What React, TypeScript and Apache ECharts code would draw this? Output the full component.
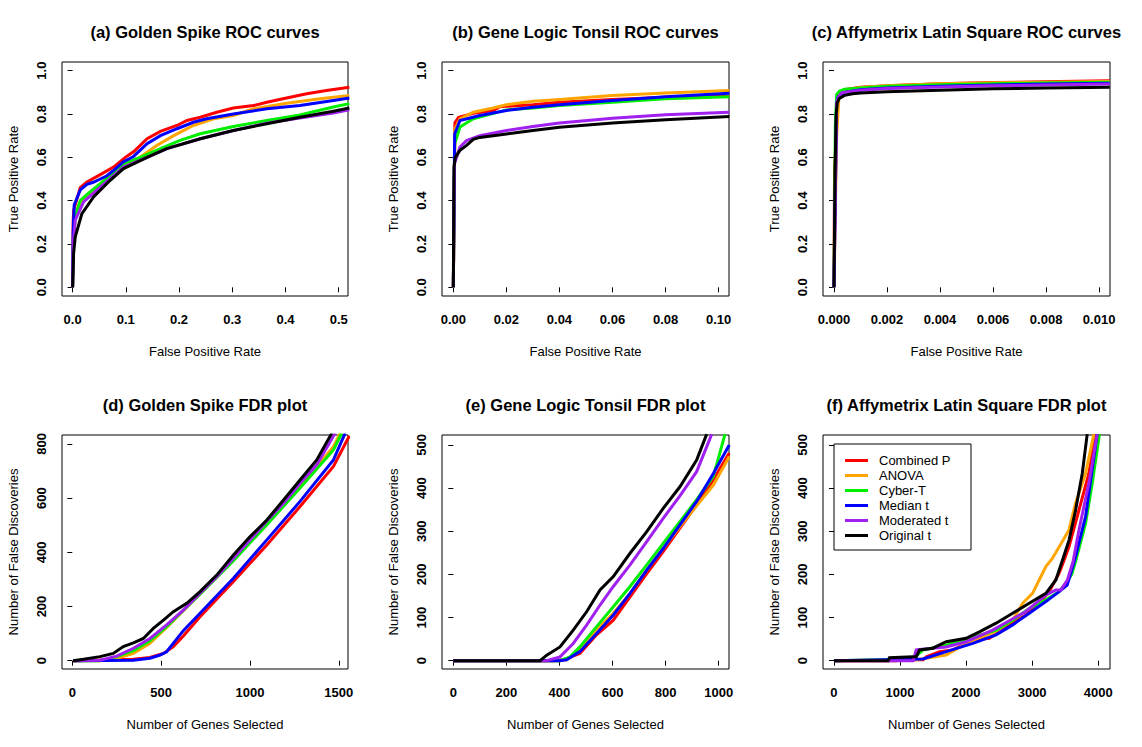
import React, { useEffect, useRef } from "react";
import * as echarts from "echarts";

const methodNames = ["Combined P", "ANOVA", "Cyber-T", "Median t", "Moderated t", "Original t"];
const methodColors = ["#FF0000", "#FFA500", "#00EE00", "#0000FF", "#A020F0", "#000000"];

const panelTitles = [
  "(a) Golden Spike ROC curves",
  "(b) Gene Logic Tonsil ROC curves",
  "(c) Affymetrix Latin Square ROC curves",
  "(d) Golden Spike FDR plot",
  "(e) Gene Logic Tonsil FDR plot",
  "(f) Affymetrix Latin Square FDR plot",
];

const rocYTicks = [0, 0.2, 0.4, 0.6, 0.8, 1.0];
const xTicksA = [0, 0.1, 0.2, 0.3, 0.4, 0.5];
const xTicksB = [0, 0.02, 0.04, 0.06, 0.08, 0.1];
const xTicksC = [0, 0.002, 0.004, 0.006, 0.008, 0.01];
const yTicksD = [0, 200, 400, 600, 800];
const xTicksD = [0, 500, 1000, 1500];
const yTicksE = [0, 100, 200, 300, 400, 500];
const xTicksE = [0, 200, 400, 600, 800, 1000];
const yTicksF = [0, 100, 200, 300, 400, 500];
const xTicksF = [0, 1000, 2000, 3000, 4000];

// (a) Golden Spike ROC
const rocA_combined = [[0,0],[0.001,0.30],[0.002,0.356],[0.0144,0.46],[0.027,0.486],[0.052,0.52],[0.077,0.555],[0.099,0.60],[0.115,0.627],[0.14,0.686],[0.165,0.72],[0.196,0.747],[0.215,0.77],[0.24,0.785],[0.271,0.808],[0.302,0.828],[0.34,0.839],[0.365,0.854],[0.402,0.874],[0.44,0.893],[0.477,0.908],[0.52,0.923]];
const rocA_anova = [[0,0],[0.001,0.2],[0.005,0.33],[0.0144,0.394],[0.03,0.43],[0.052,0.478],[0.0957,0.563],[0.127,0.60],[0.158,0.655],[0.19,0.70],[0.227,0.747],[0.265,0.778],[0.302,0.793],[0.34,0.824],[0.402,0.85],[0.465,0.87],[0.52,0.885]];
const rocA_cybert = [[0,0],[0.001,0.2],[0.005,0.33],[0.0144,0.40],[0.03,0.435],[0.052,0.478],[0.0957,0.57],[0.127,0.60],[0.165,0.64],[0.202,0.678],[0.24,0.709],[0.302,0.742],[0.365,0.77],[0.427,0.796],[0.49,0.832],[0.52,0.848]];
const rocA_median = [[0,0],[0.001,0.25],[0.003,0.38],[0.0144,0.45],[0.027,0.475],[0.039,0.485],[0.052,0.50],[0.0645,0.515],[0.077,0.54],[0.0957,0.58],[0.1145,0.604],[0.14,0.663],[0.165,0.70],[0.196,0.732],[0.227,0.762],[0.252,0.778],[0.302,0.80],[0.365,0.824],[0.427,0.839],[0.49,0.862],[0.52,0.874]];
const rocA_moderated = [[0,0],[0.001,0.2],[0.005,0.31],[0.0206,0.394],[0.052,0.463],[0.0957,0.555],[0.14,0.60],[0.177,0.64],[0.24,0.686],[0.302,0.724],[0.365,0.758],[0.427,0.782],[0.49,0.805],[0.52,0.82]];
const rocA_original = [[0,0],[0.0019,0.156],[0.005,0.233],[0.0175,0.34],[0.0394,0.417],[0.0707,0.494],[0.0957,0.548],[0.14,0.60],[0.177,0.64],[0.24,0.686],[0.302,0.724],[0.365,0.755],[0.427,0.785],[0.49,0.813],[0.52,0.828]];

// (b) Gene Logic Tonsil ROC
const rocB_combined = [[0,0],[0.0006,0.76],[0.002,0.785],[0.0075,0.803],[0.015,0.816],[0.0176,0.834],[0.03,0.843],[0.04,0.854],[0.06,0.867],[0.08,0.877],[0.104,0.882]];
const rocB_anova = [[0,0],[0.0006,0.73],[0.0025,0.778],[0.0075,0.808],[0.015,0.828],[0.02,0.843],[0.03,0.859],[0.04,0.867],[0.06,0.885],[0.08,0.897],[0.104,0.908]];
const rocB_cybert = [[0,0],[0.0005,0.662],[0.0025,0.74],[0.0075,0.778],[0.02,0.819],[0.03,0.828],[0.04,0.839],[0.06,0.854],[0.08,0.87],[0.104,0.88]];
const rocB_median = [[0,0],[0.0005,0.708],[0.0025,0.77],[0.01,0.793],[0.02,0.816],[0.03,0.831],[0.04,0.843],[0.06,0.862],[0.08,0.88],[0.104,0.896]];
const rocB_moderated = [[0,0],[0.0004,0.57],[0.0025,0.647],[0.005,0.678],[0.01,0.70],[0.02,0.724],[0.03,0.742],[0.04,0.758],[0.06,0.78],[0.08,0.796],[0.104,0.808]];
const rocB_original = [[0,0],[0.00025,0.555],[0.00075,0.60],[0.0025,0.632],[0.005,0.655],[0.0075,0.683],[0.01,0.692],[0.02,0.708],[0.03,0.724],[0.04,0.739],[0.06,0.758],[0.08,0.773],[0.104,0.788]];

// (c) Affymetrix Latin Square ROC
const rocC_combined = [[0,0],[0.00002,0.55],[0.00005,0.62],[0.0001,0.8],[0.00015,0.89],[0.0004,0.912],[0.001,0.924],[0.0022,0.932],[0.004,0.94],[0.006,0.945],[0.0085,0.95],[0.0104,0.954]];
const rocC_anova = [[0,0],[0.0001,0.7],[0.00018,0.87],[0.0004,0.91],[0.001,0.922],[0.002,0.93],[0.004,0.94],[0.006,0.944],[0.008,0.947],[0.0104,0.95]];
const rocC_cybert = [[0,0],[0.00005,0.75],[0.0001,0.89],[0.0002,0.905],[0.0004,0.914],[0.001,0.92],[0.002,0.928],[0.004,0.935],[0.006,0.94],[0.008,0.943],[0.0104,0.946]];
const rocC_median = [[0,0],[0.0001,0.85],[0.00016,0.88],[0.0004,0.9],[0.001,0.912],[0.002,0.92],[0.004,0.928],[0.006,0.934],[0.008,0.938],[0.0104,0.942]];
const rocC_moderated = [[0,0],[0.0001,0.85],[0.00015,0.875],[0.0003,0.898],[0.001,0.91],[0.002,0.918],[0.004,0.925],[0.006,0.93],[0.008,0.934],[0.0104,0.939]];
const rocC_original = [[0,0],[0.00004,0.52],[0.00008,0.8],[0.00012,0.85],[0.0002,0.872],[0.0004,0.886],[0.0007,0.893],[0.001,0.897],[0.002,0.903],[0.004,0.91],[0.006,0.916],[0.008,0.92],[0.0104,0.923]];

// (d) Golden Spike FDR
const fdrD_combined = [[5,0],[344,5],[437,12],[513,27],[569,52],[625,91],[719,162],[907,292],[1095,427],[1282,569],[1470,717],[1560,830]];
const fdrD_anova = [[5,0],[156,0],[250,9],[344,27],[437,64],[531,123],[625,185],[719,246],[907,372],[1095,508],[1282,643],[1470,790],[1508,840]];
const fdrD_cybert = [[5,0],[156,0],[250,15],[344,37],[437,74],[531,126],[719,246],[907,369],[1095,502],[1282,637],[1470,778],[1517,840]];
const fdrD_median = [[5,0],[344,2],[437,9],[494,21],[531,33],[625,111],[719,175],[907,304],[1095,446],[1282,588],[1470,741],[1536,840]];
const fdrD_moderated = [[5,0],[156,2],[250,17],[344,46],[437,82],[531,132],[625,187],[719,249],[813,310],[907,378],[1001,446],[1095,516],[1189,581],[1282,655],[1376,723],[1480,840]];
const fdrD_original = [[5,0],[63,5],[156,15],[231,27],[287,52],[344,66],[400,82],[456,119],[513,150],[569,181],[644,212],[719,255],[813,316],[907,390],[1001,458],[1095,519],[1189,593],[1282,667],[1376,741],[1461,840]];

// (e) Gene Logic Tonsil FDR
const fdrE_combined = [[0,0],[377,0],[415,2],[477,17],[540,60],[603,94],[666,148],[729,202],[791,253],[854,307],[917,361],[980,419],[1040,481]];
const fdrE_anova = [[0,0],[400,0],[427,2],[477,25],[540,71],[603,110],[666,156],[729,210],[854,311],[980,407],[1040,473]];
const fdrE_cybert = [[0,0],[402,0],[440,9],[477,32],[540,79],[603,125],[666,172],[729,222],[791,272],[854,322],[917,373],[980,427],[1024,525]];
const fdrE_median = [[0,0],[400,0],[427,2],[477,21],[540,63],[603,106],[666,156],[729,210],[791,260],[854,315],[917,369],[980,434],[1040,500]];
const fdrE_moderated = [[0,0],[352,0],[402,9],[452,40],[503,83],[553,129],[603,172],[666,222],[729,276],[791,330],[854,382],[917,438],[974,525]];
const fdrE_original = [[0,0],[327,0],[352,13],[402,32],[452,71],[503,114],[553,164],[603,195],[666,249],[729,299],[791,353],[854,403],[917,465],[955,525]];

// (f) Affymetrix Latin Square FDR
const fdrF_combined = [[0,0],[945,0],[1000,2],[1350,2],[1398,9],[1599,21],[1800,25],[1951,36],[2101,48],[2353,52],[2554,71],[2705,87],[2906,106],[3107,133],[3258,160],[3409,203],[3484,233],[3558,264],[3709,349],[3859,434],[3960,525]];
const fdrF_anova = [[0,0],[1246,2],[1698,13],[2000,40],[2402,65],[2705,94],[2856,133],[3006,156],[3107,187],[3208,218],[3306,237],[3457,276],[3558,303],[3658,365],[3809,434],[3935,525]];
const fdrF_cybert = [[0,0],[1196,4],[1347,25],[1700,36],[2101,54],[2454,71],[2705,94],[2956,121],[3208,141],[3409,160],[3509,179],[3600,200],[3658,230],[3809,318],[3910,411],[4020,525]];
const fdrF_median = [[0,0],[1347,4],[1700,21],[2101,40],[2454,60],[2705,83],[2956,110],[3208,137],[3409,160],[3530,175],[3600,210],[3658,241],[3809,334],[3985,525]];
const fdrF_moderated = [[0,0],[1200,0],[1246,25],[1296,26],[1497,29],[1698,32],[2000,44],[2402,71],[2905,114],[3206,152],[3359,164],[3434,164],[3534,187],[3620,230],[3709,303],[3859,411],[3985,525]];
const fdrF_original = [[0,0],[819,0],[840,7],[1196,9],[1246,9],[1297,25],[1497,29],[1700,44],[2001,52],[2202,67],[2454,87],[2705,110],[2956,133],[3208,156],[3359,187],[3459,233],[3560,280],[3658,349],[3759,434],[3834,525]];

const panelData = [
  [rocA_combined, rocA_anova, rocA_cybert, rocA_median, rocA_moderated, rocA_original],
  [rocB_combined, rocB_anova, rocB_cybert, rocB_median, rocB_moderated, rocB_original],
  [rocC_combined, rocC_anova, rocC_cybert, rocC_median, rocC_moderated, rocC_original],
  [fdrD_combined, fdrD_anova, fdrD_cybert, fdrD_median, fdrD_moderated, fdrD_original],
  [fdrE_combined, fdrE_anova, fdrE_cybert, fdrE_median, fdrE_moderated, fdrE_original],
  [fdrF_combined, fdrF_anova, fdrF_cybert, fdrF_median, fdrF_moderated, fdrF_original],
];

const FONT = "'Liberation Sans', Arial, sans-serif";

export default function App() {
  const ref = useRef<HTMLDivElement>(null);
  useEffect(() => {
    if (!ref.current) return;
    const chart = echarts.init(ref.current, undefined, { renderer: "svg" });

    const colLefts = [62, 442, 823];
    const colWidths = [286, 287, 287];
    const rowTops = [62, 435];
    const plotH = 234;

    const xRanges = [
      [-0.0199, 0.5175],
      [-0.00427, 0.1039],
      [-0.000415, 0.01041],
      [-58, 1552],
      [-42.6, 1039],
      [-166, 4179],
    ];
    const yRanges = [
      [-0.04, 1.04],
      [-0.04, 1.04],
      [-0.04, 1.04],
      [-30.6, 833],
      [-19.2, 523],
      [-19.2, 523],
    ];
    const xTicks = [xTicksA, xTicksB, xTicksC, xTicksD, xTicksE, xTicksF];
    const yTicks = [rocYTicks, rocYTicks, rocYTicks, yTicksD, yTicksE, yTicksF];
    const xFmt = [
      (v: number) => v.toFixed(1),
      (v: number) => v.toFixed(2),
      (v: number) => v.toFixed(3),
      (v: number) => String(Math.round(v)),
      (v: number) => String(Math.round(v)),
      (v: number) => String(Math.round(v)),
    ];
    const yFmt = [
      (v: number) => v.toFixed(1),
      (v: number) => v.toFixed(1),
      (v: number) => v.toFixed(1),
      (v: number) => String(Math.round(v)),
      (v: number) => String(Math.round(v)),
      (v: number) => String(Math.round(v)),
    ];
    const xNames = ["False Positive Rate", "False Positive Rate", "False Positive Rate", "Number of Genes Selected", "Number of Genes Selected", "Number of Genes Selected"];
    const yNames = ["True Positive Rate", "True Positive Rate", "True Positive Rate", "Number of False Discoveries", "Number of False Discoveries", "Number of False Discoveries"];

    const grids: any[] = [];
    const xAxes: any[] = [];
    const yAxes: any[] = [];
    const titles: any[] = [];
    const series: any[] = [];

    for (let p = 0; p < 6; p++) {
      const col = p % 3;
      const row = Math.floor(p / 3);
      const left = colLefts[col];
      const width = colWidths[col];
      const top = rowTops[row];
      grids.push({
        left, top, width, height: plotH,
        show: true, borderColor: "#000", borderWidth: 1, backgroundColor: "transparent",
        containLabel: false,
      });
      titles.push({
        text: panelTitles[p],
        left: left + width / 2,
        top: row === 0 ? 23 : 396,
        textAlign: "center",
        padding: 0,
        textStyle: { fontFamily: FONT, fontSize: 16.5, fontWeight: "bold", color: "#000" },
      });
      xAxes.push({
        type: "value", gridIndex: p,
        min: xRanges[p][0], max: xRanges[p][1],
        axisLine: { show: false },
        splitLine: { show: false },
        axisTick: { show: true, length: 5, inside: false, customValues: xTicks[p], lineStyle: { color: "#000", width: 1 } },
        axisLabel: {
          customValues: xTicks[p], formatter: xFmt[p], margin: 17,
          fontFamily: FONT, fontSize: 13, fontWeight: "bold", color: "#000",
          showMinLabel: true, showMaxLabel: true,
        },
        name: xNames[p], nameLocation: "middle", nameGap: 49,
        nameTextStyle: { fontFamily: FONT, fontSize: 13, color: "#000" },
      });
      yAxes.push({
        type: "value", gridIndex: p,
        min: yRanges[p][0], max: yRanges[p][1],
        axisLine: { show: false },
        splitLine: { show: false },
        axisTick: { show: true, length: 5, inside: false, customValues: yTicks[p], lineStyle: { color: "#000", width: 1 } },
        axisLabel: {
          customValues: yTicks[p], formatter: yFmt[p], margin: 14, rotate: 90,
          fontFamily: FONT, fontSize: 13, fontWeight: "bold", color: "#000",
          showMinLabel: true, showMaxLabel: true,
        },
        name: yNames[p], nameLocation: "middle", nameGap: 42,
        nameTextStyle: { fontFamily: FONT, fontSize: 13, color: "#000" },
      });
      for (let m = 0; m < 6; m++) {
        series.push({
          type: "line",
          name: methodNames[m],
          xAxisIndex: p, yAxisIndex: p,
          data: panelData[p][m],
          showSymbol: false,
          symbol: "none",
          clip: true,
          color: methodColors[m],
          lineStyle: { width: 3, color: methodColors[m], cap: "butt", join: "miter" },
          z: 2,
        });
      }
    }

    chart.setOption({
      animation: false,
      backgroundColor: "#fff",
      title: titles,
      grid: grids,
      xAxis: xAxes,
      yAxis: yAxes,
      legend: {
        data: methodNames,
        orient: "vertical",
        left: 845,
        top: 453,
        padding: 0,
        itemGap: 0,
        itemWidth: 23,
        itemHeight: 3,
        icon: "rect",
        selectedMode: false,
        textStyle: { fontFamily: FONT, fontSize: 13, color: "#000", padding: [0, 0, 0, 6], lineHeight: 15 },
      },
      graphic: [
        {
          type: "rect",
          shape: { x: 834, y: 444, width: 137, height: 106 },
          style: { fill: "none", stroke: "#000", lineWidth: 1 },
          z: 100,
        },
      ],
      series,
    });
    return () => chart.dispose();
  }, []);
  return <div ref={ref} style={{ position: "fixed", left: 0, top: 0, width: 1142, height: 747 }} />;
}
